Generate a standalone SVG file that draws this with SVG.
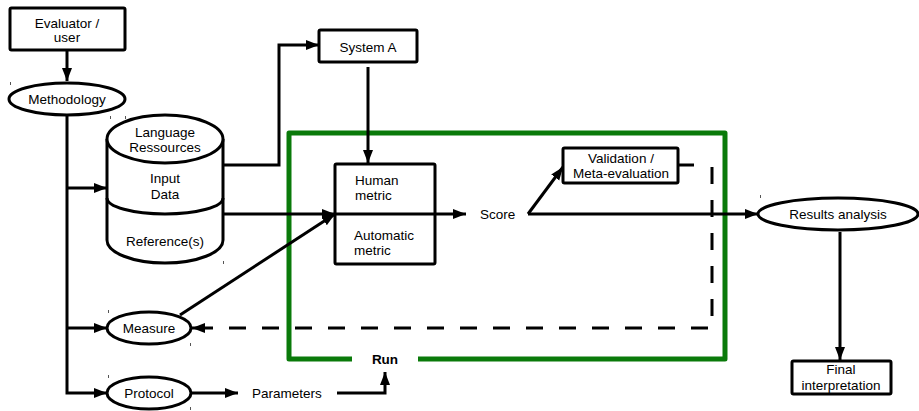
<svg xmlns="http://www.w3.org/2000/svg" width="919" height="411" viewBox="0 0 919 411">
  <defs>
    <marker id="arrow" markerUnits="userSpaceOnUse" markerWidth="14" markerHeight="12" refX="13" refY="6" orient="auto">
      <path d="M0,1 L13,6 L0,11 Z" fill="#000"/>
    </marker>
    <style>
      text { font-family: "Liberation Sans", Arial, sans-serif; font-size: 13.5px; fill: #000; }
      .c { text-anchor: middle; }
      .shape { fill: #fff; stroke: #000; stroke-width: 3; }
      .line { fill: none; stroke: #000; stroke-width: 3; }
      .dash { fill: none; stroke: #000; stroke-width: 3; stroke-dasharray: 17 16; }
      .tick { stroke: #555; stroke-width: 1; }
    </style>
  </defs>
  <rect width="919" height="411" fill="#fff"/>

  <!-- Run frame -->
  <g id="run-frame">
    <path d="M352,359 H289 V133 H725 V359 H418" fill="none" stroke="#0a7a0a" stroke-width="5" stroke-linejoin="round"/>
    <text x="385" y="364" class="c" font-weight="bold">Run</text>
  </g>

  <!-- Connectors -->
  <g id="connectors">
    <line class="line" x1="67" y1="50" x2="67" y2="81" marker-end="url(#arrow)"/>
    <polyline class="line" points="67,115 67,393 107,393" marker-end="url(#arrow)"/>
    <line class="line" x1="67" y1="188" x2="107" y2="188" marker-end="url(#arrow)"/>
    <line class="line" x1="67" y1="328" x2="107" y2="328" marker-end="url(#arrow)"/>
    <polyline class="line" points="223,165 279,165 279,45 319,45" marker-end="url(#arrow)"/>
    <line class="line" x1="368" y1="67" x2="368" y2="163" marker-end="url(#arrow)"/>
    <line class="line" x1="223" y1="214" x2="335" y2="214" marker-end="url(#arrow)"/>
    <line class="line" x1="180" y1="315" x2="335" y2="214" marker-end="url(#arrow)"/>
    <line class="line" x1="435" y1="214" x2="466" y2="214" marker-end="url(#arrow)"/>
    <line class="line" x1="528" y1="214" x2="758" y2="214" marker-end="url(#arrow)"/>
    <line class="line" x1="528" y1="214" x2="563" y2="167" marker-end="url(#arrow)"/>
    <line class="line" x1="678" y1="165" x2="694" y2="165"/>
    <polyline class="dash" points="712,167 712,328 200,328"/>
    <line class="line" x1="200" y1="328" x2="192" y2="328" marker-end="url(#arrow)"/>
    <line class="line" x1="840" y1="232" x2="840" y2="360" marker-end="url(#arrow)"/>
    <line class="line" x1="192" y1="393" x2="238" y2="393" marker-end="url(#arrow)"/>
    <polyline class="line" points="337,393 385,393 385,372" marker-end="url(#arrow)"/>
  </g>

  <g id="evaluator">
    <rect class="shape" x="10" y="8" width="115" height="42" rx="1.5"/>
    <text x="67" y="28" class="c">Evaluator /</text>
    <text x="67" y="42" class="c">user</text>
  </g>

  <g id="methodology">
    <ellipse class="shape" cx="67" cy="99" rx="58" ry="16"/>
    <text x="67" y="104" class="c">Methodology</text>
  </g>

  <g id="resources">
    <path class="shape" d="M107,139 V240 A58,23 0 0 0 223,240 V139"/>
    <path class="line" d="M107,198 A58,16 0 0 0 223,198"/>
    <ellipse class="shape" cx="165" cy="139" rx="58" ry="24"/>
    <text x="165" y="137" class="c">Language</text>
    <text x="165" y="152" class="c">Ressources</text>
    <text x="165" y="183" class="c">Input</text>
    <text x="165" y="199" class="c">Data</text>
    <text x="165" y="246" class="c">Reference(s)</text>
  </g>

  <g id="system-a">
    <rect class="shape" x="319" y="30" width="98" height="32" rx="1.5"/>
    <text x="368" y="52" class="c">System A</text>
  </g>

  <g id="metrics">
    <rect class="shape" x="335" y="164" width="100" height="100" rx="1.5"/>
    <line class="line" x1="335" y1="214" x2="435" y2="214"/>
    <text x="355" y="185">Human</text>
    <text x="355" y="200">metric</text>
    <text x="354" y="240">Automatic</text>
    <text x="354" y="255">metric</text>
  </g>

  <g id="score">
    <text x="480" y="219">Score</text>
  </g>

  <g id="validation">
    <rect class="shape" x="563" y="148" width="115" height="35" rx="1.5"/>
    <text x="621" y="163" class="c">Validation /</text>
    <text x="621" y="178" class="c">Meta-evaluation</text>
  </g>

  <g id="results">
    <ellipse class="shape" cx="838" cy="214" rx="80" ry="16"/>
    <text x="838" y="219" class="c">Results analysis</text>
  </g>

  <g id="final">
    <rect class="shape" x="792" y="361" width="99" height="33" rx="1.5"/>
    <text x="841" y="374" class="c">Final</text>
    <text x="841" y="390" class="c">interpretation</text>
  </g>

  <g id="measure">
    <ellipse class="shape" cx="149" cy="328" rx="42" ry="16"/>
    <text x="149" y="333" class="c">Measure</text>
  </g>

  <g id="protocol">
    <ellipse class="shape" cx="149" cy="393" rx="42" ry="16"/>
    <text x="149" y="398" class="c">Protocol</text>
  </g>

  <g id="parameters">
    <text x="252" y="398">Parameters</text>
  </g>

  <!-- small corner marks -->
  <g id="marks">
    <line class="tick" x1="10.5" y1="82" x2="10.5" y2="85"/>
    <line class="tick" x1="110.5" y1="116" x2="110.5" y2="119"/>
    <line class="tick" x1="125.5" y1="116" x2="125.5" y2="119"/>
    <line class="tick" x1="223.5" y1="261" x2="223.5" y2="264"/>
    <line class="tick" x1="760.5" y1="195" x2="760.5" y2="198"/>
    <line class="tick" x1="108.5" y1="310" x2="108.5" y2="313"/>
    <line class="tick" x1="190.5" y1="343" x2="190.5" y2="346"/>
    <line class="tick" x1="108.5" y1="375" x2="108.5" y2="378"/>
    <line class="tick" x1="190.5" y1="407" x2="190.5" y2="410"/>
  </g>
</svg>
